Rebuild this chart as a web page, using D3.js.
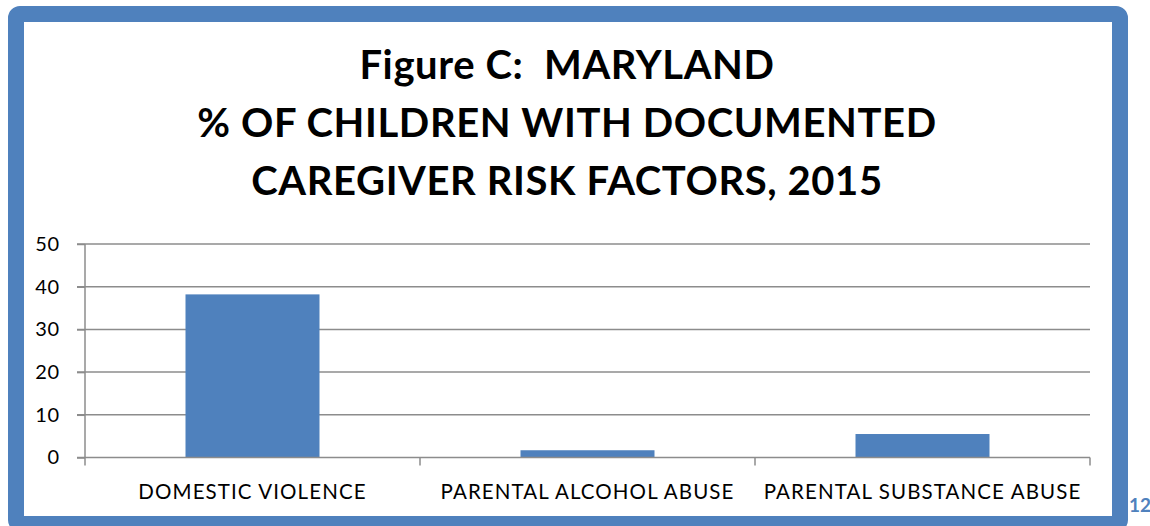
<!DOCTYPE html>
<html>
<head>
<meta charset="utf-8">
<script src="https://cdn.jsdelivr.net/npm/d3@7"></script>
<style>
  html, body { margin: 0; padding: 0; background: #ffffff; }
  svg { display: block; }
  text { font-family: Lato, "Open Sans", "Liberation Sans", sans-serif; white-space: pre; }
</style>
</head>
<body>
<svg id="chart" width="1150" height="526"></svg>
<script>
const titleLines = ["Figure C:  MARYLAND", "% OF CHILDREN WITH DOCUMENTED", "CAREGIVER RISK FACTORS, 2015"];
const categories = ["DOMESTIC VIOLENCE", "PARENTAL ALCOHOL ABUSE", "PARENTAL SUBSTANCE ABUSE"];
const values = [38.2, 1.7, 5.5];
const yTicks = [0, 10, 20, 30, 40, 50];
const pageNumber = "12";

const svg = d3.select("#chart");
const blue = "#4F81BD";
const grid = "#8c8c8c";

// frame
svg.append("rect")
  .attr("x", 16).attr("y", 14).attr("width", 1104).attr("height", 510)
  .attr("rx", 4).attr("fill", "#ffffff")
  .attr("stroke", blue).attr("stroke-width", 16);

// title
const title = svg.append("g");
titleLines.forEach((t, i) => {
  title.append("text")
    .attr("x", 567).attr("y", 78.5 + i * 58.3)
    .attr("text-anchor", "middle")
    .attr("font-size", 40).attr("font-weight", 700)
    .attr("letter-spacing", 0.6)
    .attr("fill", "#000")
    .text(t);
});

const margin = { left: 85, right: 1090, top: 244, bottom: 457.5 };
const x = d3.scaleBand().domain(categories).range([margin.left, margin.right]).paddingInner(0).paddingOuter(0);
const y = d3.scaleLinear().domain([0, 50]).range([margin.bottom, margin.top]);

// gridlines
svg.append("g").selectAll("line").data(yTicks.filter(d => d > 0)).join("line")
  .attr("x1", margin.left - 8).attr("x2", margin.right)
  .attr("y1", d => y(d)).attr("y2", d => y(d))
  .attr("stroke", grid).attr("stroke-width", 1.5);

// bars
const bw = x.bandwidth() * 0.4;
svg.append("g").selectAll("rect").data(values).join("rect")
  .attr("x", (d, i) => x(categories[i]) + x.bandwidth() / 2 - bw / 2)
  .attr("width", bw)
  .attr("y", d => y(d))
  .attr("height", d => y(0) - y(d))
  .attr("fill", blue);

// y axis
const yAxis = svg.append("g").attr("transform", `translate(${margin.left},0)`)
  .call(d3.axisLeft(y).tickValues(yTicks).tickSize(8).tickPadding(17).tickFormat(d3.format("d")));
yAxis.select(".domain").attr("stroke", grid).attr("stroke-width", 1.5).attr("d", `M0,${margin.top}V${margin.bottom}`);
yAxis.selectAll(".tick line").attr("stroke", grid).attr("stroke-width", 1.5);
yAxis.selectAll(".tick text").attr("font-size", 20).attr("fill", "#000")
  .attr("font-family", "Lato, sans-serif").attr("letter-spacing", 0.8);

// x axis
const xAxisG = svg.append("g").attr("transform", `translate(0,${margin.bottom})`);
xAxisG.append("line").attr("x1", margin.left - 8).attr("x2", margin.right)
  .attr("y1", 0).attr("y2", 0).attr("stroke", grid).attr("stroke-width", 1.5);
const boundaries = categories.map(c => x(c)).concat([margin.right]);
xAxisG.selectAll("line.tk").data(boundaries).join("line").attr("class", "tk")
  .attr("x1", d => d).attr("x2", d => d).attr("y1", 0).attr("y2", 8)
  .attr("stroke", grid).attr("stroke-width", 1.5);
xAxisG.selectAll("text").data(categories).join("text")
  .attr("x", d => x(d) + x.bandwidth() / 2)
  .attr("y", 41.5)
  .attr("text-anchor", "middle")
  .attr("font-size", 20.5)
  .attr("letter-spacing", 1.1)
  .attr("fill", "#000")
  .text(d => d);

// page number
svg.append("text").attr("x", 1129).attr("y", 512)
  .attr("font-size", 19).attr("font-weight", 700).attr("fill", blue)
  .text(pageNumber);
</script>
</body>
</html>
